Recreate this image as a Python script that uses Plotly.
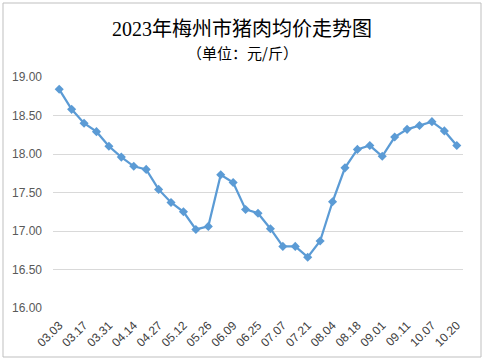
import plotly.graph_objects as go

dates = ["03.03", "03.10", "03.17", "03.24", "03.31", "04.07", "04.14", "04.21",
         "04.27", "05.05", "05.12", "05.19", "05.26", "06.02", "06.09", "06.16",
         "06.25", "07.01", "07.07", "07.14", "07.21", "07.28", "08.04", "08.11",
         "08.18", "08.25", "09.01", "09.06", "09.11", "09.22", "10.07", "10.13",
         "10.20"]
prices = [18.84, 18.58, 18.40, 18.29, 18.10, 17.96, 17.84, 17.80,
          17.54, 17.37, 17.25, 17.02, 17.06, 17.73, 17.63, 17.28,
          17.23, 17.03, 16.80, 16.80, 16.66, 16.87, 17.38, 17.82,
          18.06, 18.11, 17.97, 18.22, 18.32, 18.37, 18.42, 18.30,
          18.11]
tick_labels = dates[::2]
y_ticks = [16.0, 16.5, 17.0, 17.5, 18.0, 18.5, 19.0]

title_text = "2023年梅州市猪肉均价走势图"
subtitle_text = "（单位：元/斤）"

W, H = 485, 361
ml, mr, mt, mb = 53, 22, 77, 53
pw, ph = W - ml - mr, H - mt - mb

def px_x(x):
    return (x - ml) / pw

def px_y(y):
    return (H - mb - y) / ph

fig = go.Figure()
fig.add_trace(go.Scatter(
    x=dates, y=prices, mode="lines+markers",
    line=dict(color="#5B9BD5", width=2.25),
    marker=dict(symbol="diamond", size=7, color="#5B9BD5"),
    hoverinfo="x+y", showlegend=False,
))

fig.update_layout(
    width=W, height=H,
    margin=dict(l=ml, r=mr, t=mt, b=mb, autoexpand=False),
    paper_bgcolor="white", plot_bgcolor="white",
    font=dict(family="Liberation Sans, Noto Sans CJK SC", color="#595959"),
    xaxis=dict(
        type="category", range=[-0.5, len(dates) - 0.5],
        tickmode="array", tickvals=tick_labels, ticktext=tick_labels,
        tickangle=-45, tickfont=dict(size=12, color="#404040"),
        showgrid=False, showline=False, zeroline=False, ticks="",
        ticklabelstandoff=7, automargin=False,
    ),
    yaxis=dict(
        range=[16, 19], tickvals=y_ticks, tickformat=".2f",
        tickfont=dict(size=12, color="#595959"),
        showgrid=True, gridcolor="#D9D9D9", gridwidth=1,
        showline=False, zeroline=False, ticks="",
        ticklabelstandoff=10, automargin=False,
    ),
    annotations=[
        dict(text=title_text, xref="paper", yref="paper",
             x=px_x(242), y=px_y(29), xanchor="center", yanchor="middle",
             showarrow=False,
             font=dict(family="Liberation Serif, Noto Sans CJK SC", size=20, color="#000000")),
        dict(text=subtitle_text, xref="paper", yref="paper",
             x=px_x(242), y=px_y(53), xanchor="center", yanchor="middle",
             showarrow=False,
             font=dict(family="Noto Sans CJK SC", size=15, color="#000000")),
    ],
    shapes=[
        dict(type="rect", xref="paper", yref="paper",
             x0=px_x(3), x1=px_x(481), y0=px_y(357), y1=px_y(3),
             line=dict(color="#BFBFBF", width=1), layer="above"),
    ],
)

fig.write_html("out.html", config={"displayModeBar": False},
               post_script="document.body.style.margin='0';")
